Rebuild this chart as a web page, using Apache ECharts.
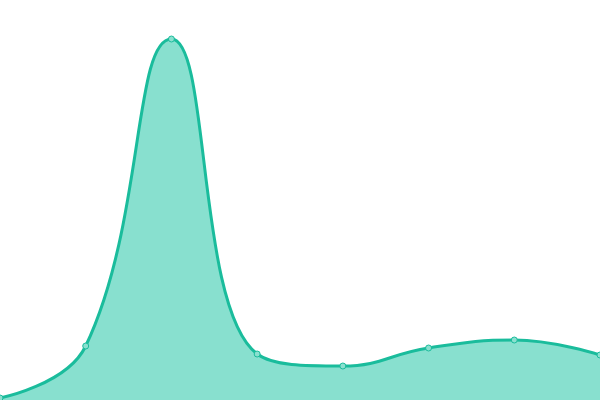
<!DOCTYPE html>
<html lang="en">
<head>
    <meta charset="UTF-8">
    <title>Area</title>
    <script src="https://cdn.jsdelivr.net/npm/echarts@6/dist/echarts.min.js"></script>
    <style>
        html, body { margin: 0; padding: 0; background: #fff; }
    </style>
</head>
<body>
    <div id="myChart" style="width: 600px; height: 400px;"></div>
    <script>
        // 数据
        const categories = ['1', '2', '3', '4', '5', '6', '7', '8'];
        const values = [2, 54, 361, 46, 34, 52, 60, 45];

        var myChart = echarts.init(document.getElementById('myChart'));

        var option = {
            animation: false,
            grid: { left: 0, right: 0, top: 0, bottom: 0 },
            xAxis: {
                type: 'category',
                data: categories,
                boundaryGap: false,
                show: false
            },
            yAxis: {
                type: 'value',
                min: 0,
                max: 400,
                show: false
            },
            series: [{
                type: 'line',
                data: values,
                smooth: 0.45,
                symbol: 'circle',
                symbolSize: 6,
                lineStyle: { color: '#1abc9c', width: 3 },
                itemStyle: { color: '#8ae0cf', borderColor: '#1abc9c', borderWidth: 1 },
                areaStyle: { color: '#88e0cf', opacity: 1 }
            }]
        };

        myChart.setOption(option);
    </script>
</body>
</html>
